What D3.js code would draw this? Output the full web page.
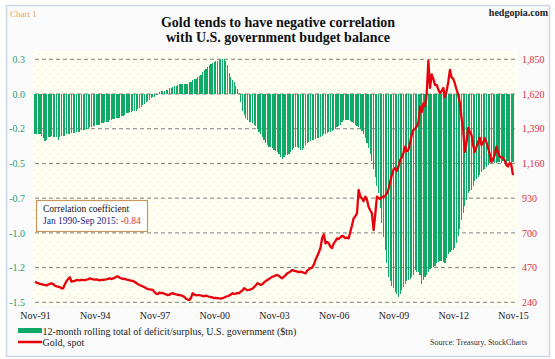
<!DOCTYPE html>
<html><head><meta charset="utf-8">
<script src="https://cdn.jsdelivr.net/npm/d3@7"></script>
<style>
body{margin:0;background:#fff}
svg{display:block}
text{font-family:"Liberation Serif","Times New Roman",serif}
</style>
</head><body>
<svg id="c" width="555" height="359"></svg>
<script>
// ---------- data ----------
const xTickLabels = ["Nov-91","Nov-94","Nov-97","Nov-00","Nov-03","Nov-06","Nov-09","Nov-12","Nov-15"];
const leftTicks = [0.25, 0, -0.25, -0.5, -0.75, -1.0, -1.25, -1.5];
const leftTickLabels = ["0.3","0.0","-0.2","-0.5","-0.7","-1.0","-1.2","-1.5"];
const rightTicks = [1850, 1620, 1390, 1160, 930, 700, 470, 240];
const rightTickLabels = ["1,850","1,620","1,390","1,160","930","700","470","240"];

// 12-month rolling total of deficit/surplus ($tn), monthly Nov 1991 - Nov 2015
const deficit = [
 -0.285,-0.29,-0.29,-0.29,-0.30,-0.32,-0.34,-0.33,-0.31,-0.31,-0.30,-0.31,
 -0.31,-0.31,-0.33,-0.31,-0.30,-0.30,-0.30,-0.29,-0.29,-0.29,-0.28,-0.28,
 -0.28,-0.27,-0.27,-0.27,-0.26,-0.26,-0.26,-0.25,-0.25,-0.24,-0.24,-0.23,
 -0.23,-0.225,-0.22,-0.22,-0.21,-0.21,-0.20,-0.20,-0.20,-0.19,-0.19,-0.18,
 -0.18,-0.175,-0.17,-0.17,-0.16,-0.16,-0.15,-0.14,-0.14,-0.13,-0.13,-0.12,
 -0.12,-0.12,-0.11,-0.10,-0.09,-0.08,-0.07,-0.06,-0.05,-0.04,-0.03,-0.025,
 -0.02,-0.01,-0.005,0.015,0.02,0.02,0.025,0.03,0.03,0.04,0.045,0.05,
 0.055,0.06,0.065,0.075,0.07,0.07,0.075,0.075,0.075,0.085,0.09,0.10,
 0.105,0.11,0.12,0.127,0.14,0.155,0.17,0.18,0.195,0.21,0.215,0.225,
 0.23,0.235,0.24,0.25,0.25,0.255,0.25,0.235,0.21,0.15,0.12,0.10,
 0.086,0.06,0.035,0.01,-0.06,-0.12,-0.15,-0.17,-0.19,-0.20,-0.20,-0.21,
 -0.22,-0.23,-0.25,-0.27,-0.29,-0.31,-0.33,-0.35,-0.37,-0.38,-0.385,-0.39,
 -0.40,-0.41,-0.42,-0.43,-0.45,-0.465,-0.45,-0.44,-0.44,-0.43,-0.42,-0.405,
 -0.39,-0.385,-0.38,-0.39,-0.40,-0.40,-0.39,-0.37,-0.355,-0.345,-0.34,-0.33,
 -0.33,-0.325,-0.32,-0.315,-0.31,-0.30,-0.29,-0.285,-0.28,-0.275,-0.27,-0.265,
 -0.26,-0.25,-0.24,-0.23,-0.22,-0.20,-0.19,-0.19,-0.185,-0.19,-0.195,-0.20,
 -0.21,-0.22,-0.23,-0.24,-0.25,-0.265,-0.285,-0.32,-0.35,-0.39,-0.43,-0.48,
 -0.54,-0.60,-0.66,-0.715,-0.82,-0.93,-1.03,-1.125,-1.22,-1.32,-1.35,-1.38,
 -1.40,-1.425,-1.44,-1.46,-1.44,-1.41,-1.39,-1.365,-1.35,-1.34,-1.33,-1.32,
 -1.30,-1.27,-1.28,-1.28,-1.30,-1.365,-1.34,-1.32,-1.30,-1.28,-1.26,-1.25,
 -1.245,-1.24,-1.22,-1.21,-1.20,-1.20,-1.21,-1.22,-1.18,-1.15,-1.14,-1.125,
 -1.12,-1.11,-1.07,-1.02,-0.97,-0.91,-0.86,-0.81,-0.76,-0.715,-0.70,-0.69,
 -0.66,-0.63,-0.615,-0.60,-0.58,-0.56,-0.55,-0.54,-0.525,-0.51,-0.50,-0.49,
 -0.49,-0.495,-0.50,-0.49,-0.49,-0.50,-0.48,-0.49,-0.50,-0.48,-0.49,-0.50,
 -0.49
];

// Gold spot ($/oz), monthly Nov 1991 - Nov 2015
const gold = [
 376,370,366,362,360,356,355,352,358,362,366,360,
 350,346,343,341,333,333,360,380,395,406,376,380,
 382,388,386,385,388,388,386,390,392,399,395,392,
 390,392,388,385,388,388,390,392,395,399,394,398,
 402,410,412,403,398,396,394,392,388,386,384,381,
 376,368,360,355,350,345,340,333,328,326,324,322,
 308,298,294,305,300,302,296,292,288,290,298,300,
 296,292,290,288,286,282,276,264,258,255,270,300,
 292,286,288,288,285,282,280,284,280,277,275,272,
 268,270,268,266,265,268,272,277,280,284,292,300,
 295,298,302,300,312,318,333,326,320,322,326,330,
 340,352,366,362,355,360,372,380,388,395,402,410,
 412,418,421,415,405,399,410,420,432,438,445,454,
 450,446,444,440,443,440,436,432,450,458,465,470,
 490,520,545,570,600,666,690,631,640,630,608,600,
 630,645,664,660,670,680,675,665,668,664,708,750,
 797,810,830,984,940,929,910,940,920,873,850,830,
 719,820,940,930,925,940,935,945,962,990,1040,1083,
 1120,1128,1110,1140,1183,1200,1230,1271,1240,1249,1300,1350,
 1382,1390,1404,1430,1536,1500,1558,1540,1620,1840,1660,1750,
 1720,1680,1680,1650,1627,1640,1660,1600,1640,1700,1780,1730,
 1720,1690,1650,1614,1560,1461,1380,1236,1300,1395,1370,1349,
 1280,1236,1270,1302,1330,1282,1300,1328,1300,1262,1220,1170,
 1190,1216,1271,1230,1205,1200,1196,1180,1150,1140,1163,1150,
 1083
];

// ---------- drawing ----------
const svg = d3.select("#c");
const W = 555, H = 359;
const green = "#0fa968", red = "#e8000c";
const plot = {l: 35, r: 515, t: 59.3, b: 302.3};

const defs = svg.append("defs");
const pat = defs.append("pattern").attr("id","dots").attr("width",8).attr("height",8)
  .attr("patternUnits","userSpaceOnUse");
pat.append("rect").attr("width",8).attr("height",8).attr("fill","#fffff4");
pat.append("circle").attr("cx",2).attr("cy",2).attr("r",0.7).attr("fill","#eee6a8");
pat.append("circle").attr("cx",6).attr("cy",6).attr("r",0.7).attr("fill","#eee6a8");

// outer frame
svg.append("rect").attr("width",W).attr("height",H).attr("fill","#ffffff");
svg.append("rect").attr("x",6.5).attr("y",5.5).attr("width",543).attr("height",351)
  .attr("fill","#fafafa").attr("stroke","#cdd7e3").attr("stroke-width",1.5);

// plot background
svg.append("rect").attr("x",33).attr("y",51).attr("width",484).attr("height",255)
  .attr("fill","url(#dots)");

const n = deficit.length;
const x = d3.scaleLinear().domain([0, n - 1]).range([35, 513]);
const yL = d3.scaleLinear().domain([-1.5, 0.25]).range([plot.b, plot.t]);
const yR = d3.scaleLinear().domain([240, 1850]).range([plot.b, plot.t]);

// gridlines
svg.append("g").selectAll("line").data(leftTicks).join("line")
  .attr("x1", plot.l).attr("x2", plot.r)
  .attr("y1", d => yL(d)).attr("y2", d => yL(d))
  .attr("stroke","#808080").attr("stroke-width",1).attr("stroke-dasharray","4,3");

// bars
const bw = 1.15;
svg.append("g").attr("shape-rendering","crispEdges").selectAll("rect").data(deficit).join("rect")
  .attr("x", (d,i) => x(i) - bw/2)
  .attr("width", bw)
  .attr("y", d => Math.min(yL(d), yL(0)))
  .attr("height", d => Math.abs(yL(d) - yL(0)))
  .attr("fill", green);

// gold line
svg.append("path").datum(gold)
  .attr("fill","none").attr("stroke",red).attr("stroke-width",2.3)
  .attr("stroke-linejoin","round")
  .attr("d", d3.line().x((d,i) => x(i)).y(d => yR(d)));

// left axis
const axL = svg.append("g").attr("transform","translate(28,0)")
  .call(d3.axisLeft(yL).tickValues(leftTicks).tickSize(0)
    .tickFormat((d,i) => leftTickLabels[i]));
axL.select(".domain").remove();
axL.selectAll("text").attr("fill","#1a9f78").attr("font-size","10px")
  .attr("font-family","Liberation Serif, serif").attr("dx","0");

// right axis
const axR = svg.append("g").attr("transform","translate(520,0)")
  .call(d3.axisRight(yR).tickValues(rightTicks).tickSize(0)
    .tickFormat((d,i) => rightTickLabels[i]));
axR.select(".domain").remove();
axR.selectAll("text").attr("fill","#e0303c").attr("font-size","10px")
  .attr("font-family","Liberation Serif, serif").attr("x",2);

// x axis
const xTickValues = xTickLabels.map((d,i) => i * 36);
const axB = svg.append("g").attr("transform","translate(0,306)")
  .call(d3.axisBottom(x).tickValues(xTickValues).tickSize(0)
    .tickFormat((d,i) => xTickLabels[i]));
axB.select(".domain").remove();
axB.selectAll("text").attr("fill","#222").attr("font-size","10px")
  .attr("font-family","Liberation Serif, serif").attr("dy","0.95em");

// titles
svg.append("text").attr("x",10).attr("y",17).attr("font-size","9px").attr("fill","#e8a468").text("Chart 1");
svg.append("text").attr("x",548).attr("y",16).attr("text-anchor","end").attr("font-size","10px")
  .attr("font-weight","bold").attr("fill","#222").text("hedgopia.com");
svg.append("text").attr("x",278).attr("y",27).attr("text-anchor","middle").attr("font-size","14px")
  .attr("font-weight","bold").attr("fill","#111").text("Gold tends to have negative correlation");
svg.append("text").attr("x",278).attr("y",42).attr("text-anchor","middle").attr("font-size","14px")
  .attr("font-weight","bold").attr("fill","#111").text("with U.S. government budget balance");

// correlation box
svg.append("rect").attr("x",36.5).attr("y",200.5).attr("width",111).attr("height",31)
  .attr("fill","#ffffff").attr("stroke","#c8965a").attr("stroke-width",1.2);
svg.append("text").attr("x",43).attr("y",212).attr("font-size","9.5px").attr("fill","#111")
  .text("Correlation coefficient");
const t2 = svg.append("text").attr("x",43).attr("y",223.5).attr("font-size","9.5px");
t2.append("tspan").attr("fill","#1c1c8c").text("Jan 1990-Sep 2015: ");
t2.append("tspan").attr("fill","#e03030").text("-0.84");

// legend
svg.append("rect").attr("x",18).attr("y",328).attr("width",24).attr("height",5).attr("fill",green);
svg.append("text").attr("x",42.5).attr("y",335).attr("font-size","10px").attr("fill","#222")
  .text("12-month rolling total of deficit/surplus, U.S. government ($tn)");
svg.append("line").attr("x1",18).attr("x2",42).attr("y1",342).attr("y2",342)
  .attr("stroke",red).attr("stroke-width",2.5);
svg.append("text").attr("x",42.5).attr("y",345.5).attr("font-size","10px").attr("fill","#222")
  .text("Gold, spot");
svg.append("text").attr("x",527).attr("y",345).attr("text-anchor","end").attr("font-size","8px")
  .attr("fill","#333").text("Source: Treasury, StockCharts");
</script>
</body></html>
